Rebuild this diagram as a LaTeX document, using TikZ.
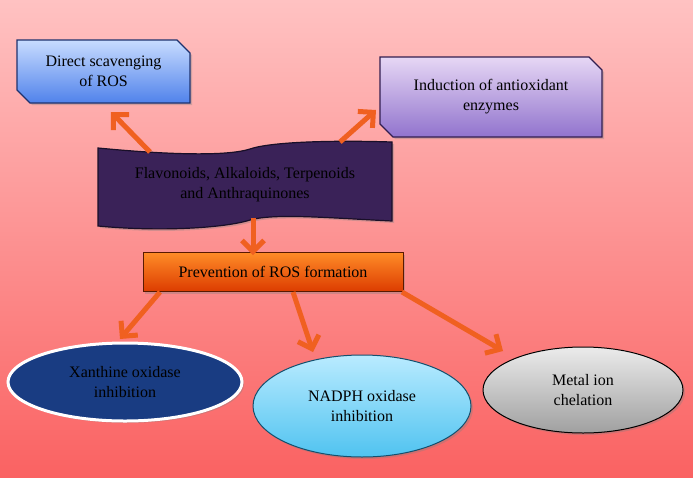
\documentclass[tikz,border=0pt]{standalone}
\usepackage{fontspec}
\setmainfont{Liberation Serif}
\usetikzlibrary{arrows.meta,shapes.misc,shapes.geometric,shadows}
\definecolor{bgtop}{RGB}{255,194,194}
\definecolor{bgbot}{RGB}{250,98,98}
\definecolor{arr}{RGB}{240,96,32}
\definecolor{banner}{RGB}{58,34,88}
\begin{document}
\begin{tikzpicture}[x=1pt,y=-1pt,
  every node/.style={font=\fontsize{16}{20}\selectfont, align=center, text=black},
  conn/.style={draw=arr, line width=5pt, -{Straight Barb[length=11pt,width=22pt]}},
  shad/.style={drop shadow={shadow xshift=2pt,shadow yshift=-2pt,opacity=.35}},
  snipbox/.style={chamfered rectangle, chamfered rectangle corners={north east,south west}, chamfered rectangle xsep=10pt, line width=1.2pt, inner sep=0pt, shad},
  oval/.style={ellipse, inner sep=0pt, shad}]
\shade[top color=bgtop, bottom color=bgbot] (0,0) rectangle (693,477);
\useasboundingbox (0,0) rectangle (693,477);

% top-left box
\node[snipbox, draw={rgb,255:red,30;green,50;blue,110}, top color={rgb,255:red,200;green,220;blue,255}, bottom color={rgb,255:red,80;green,130;blue,235}, minimum width=173pt, minimum height=63pt] (direct) at (103.5,71.5) {Direct scavenging\\of ROS};

% top-right box
\node[snipbox, draw={rgb,255:red,50;green,30;blue,80}, top color={rgb,255:red,230;green,215;blue,245}, bottom color={rgb,255:red,145;green,115;blue,205}, minimum width=222pt, minimum height=80pt] (induct) at (491,97) {Induction of antioxidant\\enzymes};

% wave banner
\draw[fill=banner, draw={rgb,255:red,25;green,15;blue,40}, line width=1.2pt, shad]
  (98,148) .. controls (160,154) and (225,157) .. (250,149)
  .. controls (270,142) and (330,140) .. (392,142)
  -- (392,221)
  .. controls (330,218) and (275,213) .. (250,220)
  .. controls (225,228) and (160,232) .. (98,226) -- cycle;
\node (banner) at (245,185) {Flavonoids, Alkaloids, Terpenoids\\and Anthraquinones};
\coordinate (bl) at (150,152);
\coordinate (br) at (340,142);
\coordinate (bb) at (253,218);

% prevention box
\node[rectangle, draw={rgb,255:red,90;green,25;blue,0}, line width=1pt, top color={rgb,255:red,255;green,140;blue,40}, bottom color={rgb,255:red,220;green,60;blue,0}, minimum width=260pt, minimum height=39pt, inner sep=0pt, shad] (prev) at (273,272) {Prevention of ROS formation};

% ellipses
\node[oval, draw=white, line width=3pt, fill={rgb,255:red,25;green,60;blue,130}, minimum width=234pt, minimum height=78pt] (xan) at (125,382) {Xanthine oxidase\\inhibition};
\node[oval, draw={rgb,255:red,20;green,80;blue,110}, line width=1pt, top color={rgb,255:red,185;green,235;blue,255}, bottom color={rgb,255:red,80;green,195;blue,240}, minimum width=218pt, minimum height=102pt] (nadph) at (362,406) {NADPH oxidase\\inhibition};
\node[oval, draw=black, line width=1pt, top color={rgb,255:red,235;green,235;blue,235}, bottom color={rgb,255:red,160;green,160;blue,160}, minimum width=200pt, minimum height=86pt] (metal) at (583,390) {Metal ion\\chelation};

% connectors
\coordinate (pl) at (160,292);
\coordinate (pm) at (293,292);
\coordinate (pr) at (402,292);
\draw[conn] (bl) -- (111,112);
\draw[conn] (br) -- (376,110);
\draw[conn] (bb) -- ([yshift=-3pt]prev.north -| bb);
\draw[conn] (pl) -- (120,339);
\draw[conn] (pm) -- (313,352);
\draw[conn] (pr) -- (503,351);
\end{tikzpicture}
\end{document}
